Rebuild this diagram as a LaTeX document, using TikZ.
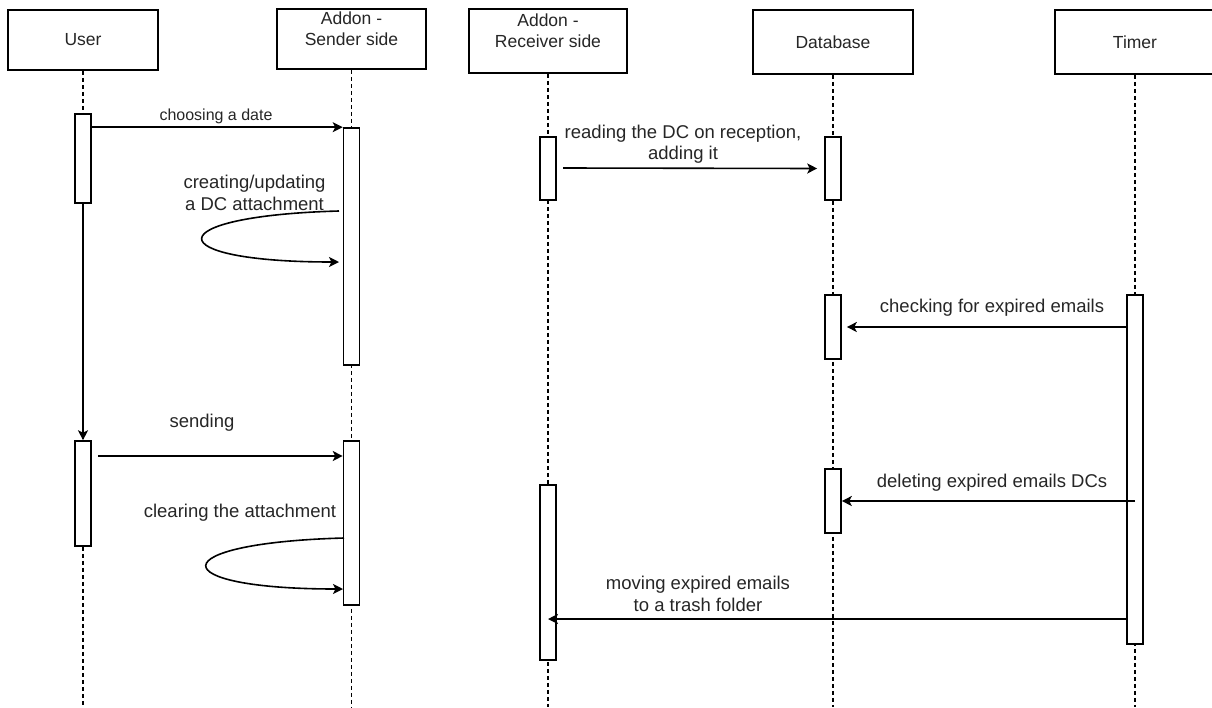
\documentclass[tikz,border=0pt]{standalone}
\usepackage{fontspec}
\setmainfont{Liberation Sans}
\usetikzlibrary{arrows.meta, calc}

\begin{document}
\begin{tikzpicture}[x=1pt, y=-1pt,
    actor/.style={draw, line width=1.6pt, fill=white, inner sep=0pt, align=center, text=black!85, font=\fontsize{17.5}{21}\selectfont},
    bar/.style={draw, line width=1.6pt, fill=white, inner sep=0pt, minimum width=16pt},
    lifeline/.style={dash pattern=on 4pt off 3pt, line width=1.3pt},
    msg/.style={-{Stealth[length=10pt, width=10pt, inset=2.5pt]}, line width=1.6pt},
    msglabel/.style={inner sep=0pt, align=center, text=black!85, font=\fontsize{18.5}{21.5}\selectfont}
  ]
  \useasboundingbox (0,0) rectangle (1212,707);

  % participants
  \node[actor, minimum width=150pt, minimum height=60pt] (usr) at (83,40) {User};
  \node[actor, minimum width=149pt, minimum height=60pt] (snd) at (351.5,39) {Addon -\\Sender side\\\mbox{}};
  \node[actor, minimum width=158pt, minimum height=64pt] (rcv) at (548,41) {Addon -\\Receiver side\\\mbox{}};
  \node[actor, minimum width=160pt, minimum height=64pt] (db) at (833,42) {Database};
  \node[actor, minimum width=160pt, minimum height=64pt] (tmr) at (1135,42) {Timer};

  \foreach \p in {usr, snd, rcv, db, tmr}
    \draw[lifeline] (\p.south) -- (\p.south |- 0,707);

  % activations
  \node[bar, minimum height=89pt] (usrA) at (83,158.5) {};
  \node[bar, minimum height=105pt] (usrB) at (83,493.5) {};
  \node[bar, minimum height=237pt] (sndA) at (351.5,246.5) {};
  \node[bar, minimum height=164pt] (sndB) at (351.5,523) {};
  \node[bar, minimum height=63pt] (rcvA) at (548,168.5) {};
  \node[bar, minimum height=175pt] (rcvB) at (548,572.5) {};
  \node[bar, minimum height=63pt] (dbA) at (833,168.5) {};
  \node[bar, minimum height=64pt] (dbB) at (833,327) {};
  \node[bar, minimum height=64pt] (dbC) at (833,501) {};
  \node[bar, minimum height=349pt] (tmrA) at (1135,469.5) {};

  % sender side
  \draw[msg] (usrA.east |- sndA.north) -- (sndA.north west);
  \node[msglabel, font=\fontsize{16}{19}\selectfont] (lchoose) at (216,116) {choosing a date};

  \coordinate (loopAin) at (339,211);
  \coordinate (loopAout) at (339,262);
  \draw[msg] (loopAin) .. controls (157,216) and (157,262) .. (loopAout);
  \node[msglabel] (lcreate) at (254.5,193) {creating/updating\\a DC attachment};

  \draw[msg] (usrA.south) -- (usrB.north);

  \coordinate (sendFrom) at (98,456);
  \draw[msg] (sendFrom) -- (sendFrom -| sndB.west);
  \node[msglabel] (lsend) at (202,423) {sending};

  \coordinate (loopBin) at (344,538);
  \coordinate (loopBout) at (343,589);
  \draw[msg] (loopBin) .. controls (161,543) and (161,589) .. (loopBout);
  \node[msglabel] (lclear) at (240,513) {clearing the attachment};

  % receiver side
  \coordinate (readFrom) at (563,168);
  \draw[msg] (readFrom) -- ([xshift=-7pt]dbA.west);
  \node[msglabel] (lread) at (683,144) {reading the DC on reception,\\adding it};

  \draw[msg] (tmrA.west |- dbB) -- ([xshift=5pt]dbB.east);
  \node[msglabel] (lcheck) at (992,308) {checking for expired emails};

  \draw[msg] (tmrA.center |- dbC) -- (dbC.east);
  \node[msglabel] (ldelete) at (992,483) {deleting expired emails DCs};

  \draw[msg] (tmrA.west |- 0,619) -- (rcvB.center |- 0,619);
  \node[msglabel] (lmove) at (698,594) {moving expired emails\\to a trash folder};
\end{tikzpicture}
\end{document}
